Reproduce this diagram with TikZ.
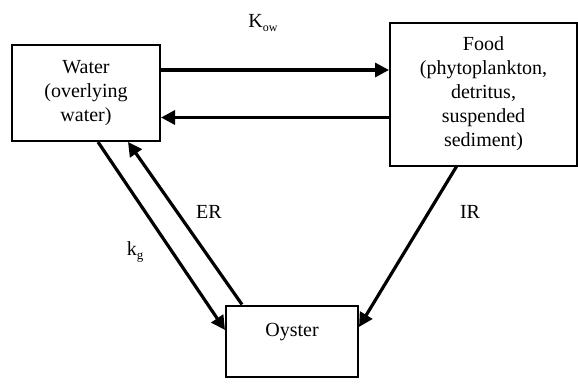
\documentclass[tikz,border=0pt]{standalone}
\usepackage{fontspec}
\setmainfont{Liberation Serif}
\usetikzlibrary{arrows.meta}
\begin{document}
\begin{tikzpicture}[x=1pt,y=-1pt,
  box/.style={draw, line width=2pt, rectangle, inner sep=0pt, align=center,
    font=\fontsize{20}{24}\selectfont},
  arr/.style={line width=3.2pt, -{Triangle[length=14pt,width=14pt]}},
  lbl/.style={inner sep=0pt, font=\fontsize{20}{24}\selectfont}]
\useasboundingbox (0,0) rectangle (578,383);
\node[box, minimum width=148pt, minimum height=96pt] (water) at (86,93) {Water\\(overlying\\water)};
\node[box, minimum width=187pt, minimum height=143pt] (food) at (483.5,94) {Food\\(phytoplankton,\\detritus,\\suspended\\sediment)};
\node[box, minimum width=132pt, text height=31pt, text depth=40pt] (oyster) at (292,341) {Oyster};
\coordinate (ovl) at (225,330);
\coordinate (ovr) at (359,327);
\draw[arr] ([yshift=23pt]water.east) -- ([yshift=23pt]water.east -| food.west);
\draw[arr] ([yshift=-23.5pt]food.west) -- ([yshift=-23.5pt]food.west -| water.east);
\draw[arr] ([xshift=12pt]water.south) -- (ovl);
\draw[arr] ([xshift=-50pt]oyster.north) -- ([xshift=42pt]water.south);
\draw[arr] ([xshift=-27pt]food.south) -- (ovr);
\node[lbl] (kow) at (263,23) {K\raisebox{-0.35ex}{\fontsize{12}{14}\selectfont ow}};
\node[lbl] (kg) at (135,252) {k\raisebox{-0.35ex}{\fontsize{13}{14}\selectfont g}};
\node[lbl] (er) at (209,212) {ER};
\node[lbl] (ir) at (470,212) {IR};
\end{tikzpicture}
\end{document}
